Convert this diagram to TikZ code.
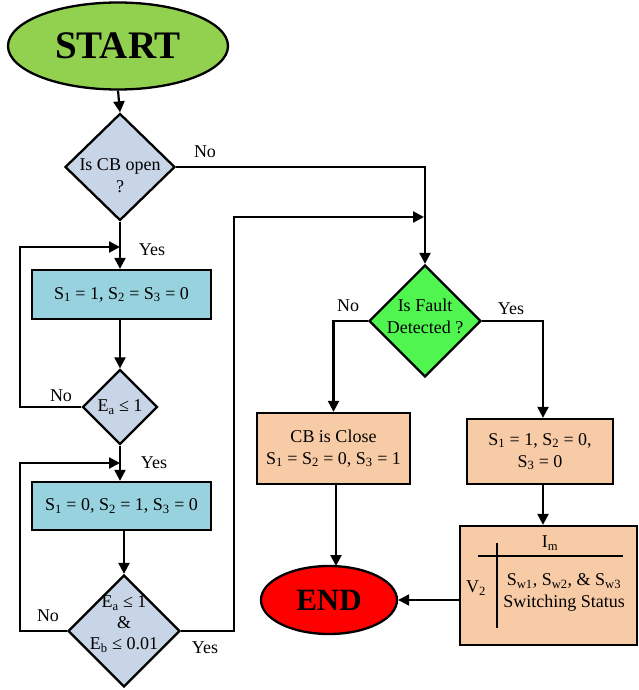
\documentclass[tikz,border=0pt]{standalone}
\usepackage{fontspec}
\setmainfont{Liberation Serif}
\usetikzlibrary{shapes.geometric,arrows.meta,calc}
\definecolor{startg}{HTML}{92D050}
\definecolor{diag}{HTML}{C8D5E6}
\definecolor{procc}{HTML}{98D2DE}
\definecolor{faultg}{HTML}{50F550}
\definecolor{orangec}{HTML}{F8CBA7}
\definecolor{endr}{HTML}{FF0000}
\begin{document}
\begin{tikzpicture}[x=1pt,y=-1pt,
  every node/.style={font=\fontsize{18}{22}\selectfont},
  base/.style={draw, line width=2.3pt, inner sep=0pt},
  dia/.style={base, diamond, fill=diag},
  procbox/.style={base, rectangle, fill=procc},
  txt/.style={align=center, inner sep=0pt},
  conn/.style={line width=2.2pt, -{Triangle[length=11pt,width=11pt]}},
  wire/.style={line width=2.2pt},
  lbl/.style={inner sep=0pt}]
\useasboundingbox (0,0) rectangle (638,690);

% terminals
\node[base, ellipse, fill=startg, minimum width=220pt, minimum height=87pt,
      font=\fontsize{39}{44}\selectfont\bfseries] (start) at (118,46) {START};
\node[base, ellipse, fill=endr, minimum width=136pt, minimum height=68pt,
      font=\fontsize{31}{36}\selectfont\bfseries] (end) at (329,600) {END};

% left column
\node[dia, minimum width=110pt, minimum height=107pt] (d1) at (120,167) {};
\node[txt] (d1t) at (120,176) {Is CB open\\?};
\node[procbox, minimum width=179pt, minimum height=49pt] (b1) at (121.5,294.5)
      {S\textsubscript{1} = 1, S\textsubscript{2} = S\textsubscript{3} = 0};
\node[dia, minimum width=75pt, minimum height=75pt] (d2) at (120,407) {};
\node[txt] (d2t) at (120,407) {E\textsubscript{a} ≤ 1};
\node[procbox, minimum width=179pt, minimum height=48pt] (b2) at (121.5,506)
      {S\textsubscript{1} = 0, S\textsubscript{2} = 1, S\textsubscript{3} = 0};
\node[dia, minimum width=112pt, minimum height=112pt] (d3) at (124,631) {};
\node[txt] (d3t) at (124,624) {E\textsubscript{a} ≤ 1\\[-1pt]\&\\[-1pt]E\textsubscript{b} ≤ 0.01};

% right part
\node[dia, fill=faultg, minimum width=112pt, minimum height=112pt] (df) at (425,321) {};
\node[txt] (dft) at (425,316) {Is Fault\\Detected ?};
\node[procbox, fill=orangec, minimum width=153pt, minimum height=71pt, align=center] (cb) at (333.5,448.5)
      {CB is Close\\S\textsubscript{1} = S\textsubscript{2} = 0, S\textsubscript{3} = 1};
\node[procbox, fill=orangec, minimum width=146pt, minimum height=65pt, align=center] (rb) at (540,451.5)
      {S\textsubscript{1} = 1, S\textsubscript{2} = 0,\\S\textsubscript{3} = 0};
\node[procbox, fill=orangec, minimum width=177pt, minimum height=119pt] (big) at (548.5,585.5) {};

% inside the big box
\draw[wire] (478,556) -- (623,556);
\draw[wire] (497,543) -- (497,628);
\node[lbl] (im) at (550,543) {I\textsubscript{m}};
\node[lbl] (v2) at (476,588) {V\textsubscript{2}};
\node[lbl] (sw) at (564,581) {S\textsubscript{w1}, S\textsubscript{w2}, \& S\textsubscript{w3}};
\node[lbl] (ss) at (564,603) {Switching Status};

% junction coordinates
\coordinate (j1) at (120,247);
\coordinate (j2) at (120,463);
\coordinate (j3) at (424,217);

% connectors
\draw[conn] (start.south) -- (d1.north);
\draw[conn] (d1.south) -- (d1.south |- b1.north);
\draw[conn] (d1.south |- b1.south) -- (d2.north);
\draw[conn] (d2.west) -- (20,407) |- (j1);
\draw[conn] (d2.south) -- (d2.south |- b2.north);
\draw[conn] (d3.north |- b2.south) -- (d3.north);
\draw[conn] (d3.west) -- (20,631) |- (j2);
\draw[conn] (d3.east) -- (234,631) |- (j3);
\draw[conn] (d1.east) -| (df.north);
\draw[conn] (df.west) -| (cb.north);
\draw[conn] (df.east) -| (543,0 |- rb.north);
\draw[conn] (543,0 |- rb.south) -- (543,0 |- big.north);
\draw[conn] (336,0 |- cb.south) -- (336,566);
\draw[conn] (big.west |- end.east) -- (end.east);

% branch labels
\node[lbl] (l1) at (205,152) {No};
\node[lbl] (l2) at (152,250) {Yes};
\node[lbl] (l3) at (61,396) {No};
\node[lbl] (l4) at (154,463) {Yes};
\node[lbl] (l5) at (48,616) {No};
\node[lbl] (l6) at (205,648) {Yes};
\node[lbl] (l7) at (348,306) {No};
\node[lbl] (l8) at (511,309) {Yes};
\end{tikzpicture}
\end{document}
